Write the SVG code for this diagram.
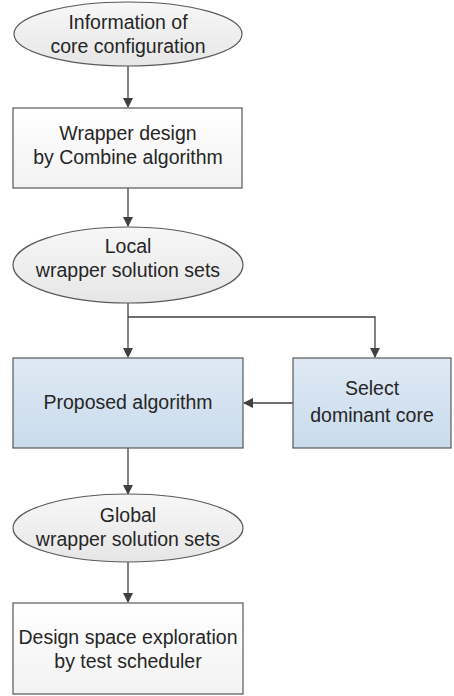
<svg xmlns="http://www.w3.org/2000/svg" width="454" height="696" viewBox="0 0 454 696">
<defs>
<linearGradient id="gGrey" x1="0" y1="0" x2="0" y2="1"><stop offset="0" stop-color="#f7f7f7"/><stop offset="1" stop-color="#e6e6e6"/></linearGradient>
<linearGradient id="gWhite" x1="0" y1="0" x2="0" y2="1"><stop offset="0" stop-color="#ffffff"/><stop offset="1" stop-color="#f2f2f2"/></linearGradient>
<linearGradient id="gBlue" x1="0" y1="0" x2="0" y2="1"><stop offset="0" stop-color="#dfe9f4"/><stop offset="1" stop-color="#c9dbec"/></linearGradient>
<marker id="arr" markerWidth="10" markerHeight="10" refX="9" refY="5" orient="auto" markerUnits="userSpaceOnUse"><path d="M0,0 L10,5 L0,10 z" fill="#404040"/></marker>
</defs>
<style>
.sh{stroke:#595959;stroke-width:1.2}
.t{font-family:"Liberation Sans",Arial,sans-serif;font-size:19.5px;fill:#262626;text-anchor:middle}
.c{stroke:#404040;stroke-width:1.3;fill:none}
</style>
<rect width="454" height="696" fill="#ffffff"/>
<g id="connectors">
<line class="c" x1="128" y1="66" x2="128" y2="107" marker-end="url(#arr)"/>
<line class="c" x1="128" y1="188" x2="128" y2="226" marker-end="url(#arr)"/>
<line class="c" x1="128" y1="303" x2="128" y2="357" marker-end="url(#arr)"/>
<polyline class="c" points="128,317 375,317 375,357" marker-end="url(#arr)"/>
<line class="c" x1="293" y1="403" x2="244" y2="403" marker-end="url(#arr)"/>
<line class="c" x1="128" y1="448" x2="128" y2="494" marker-end="url(#arr)"/>
<line class="c" x1="128" y1="562" x2="128" y2="602" marker-end="url(#arr)"/>
</g>
<g id="n1"><ellipse class="sh" cx="128" cy="34" rx="114" ry="32" fill="url(#gGrey)"/>
<text class="t" x="128" y="29">Information of</text><text class="t" x="128" y="53">core configuration</text></g>
<g id="n2"><rect class="sh" x="13" y="108" width="229" height="80" fill="url(#gWhite)"/>
<text class="t" x="128" y="140">Wrapper design</text><text class="t" x="128" y="164">by Combine algorithm</text></g>
<g id="n3"><ellipse class="sh" cx="128" cy="265" rx="115" ry="38" fill="url(#gGrey)"/>
<text class="t" x="128" y="253">Local</text><text class="t" x="128" y="277">wrapper solution sets</text></g>
<g id="n4"><rect class="sh" x="13" y="358" width="230" height="90" fill="url(#gBlue)"/>
<text class="t" x="128" y="409">Proposed algorithm</text></g>
<g id="n5"><rect class="sh" x="293" y="358" width="158" height="90" fill="url(#gBlue)"/>
<text class="t" x="372" y="395">Select</text><text class="t" x="372" y="422">dominant core</text></g>
<g id="n6"><ellipse class="sh" cx="128" cy="528" rx="115" ry="34" fill="url(#gGrey)"/>
<text class="t" x="128" y="522">Global</text><text class="t" x="128" y="546">wrapper solution sets</text></g>
<g id="n7"><rect class="sh" x="13" y="603" width="230" height="91" fill="url(#gWhite)"/>
<text class="t" x="128" y="644">Design space exploration</text><text class="t" x="128" y="668">by test scheduler</text></g>
</svg>
